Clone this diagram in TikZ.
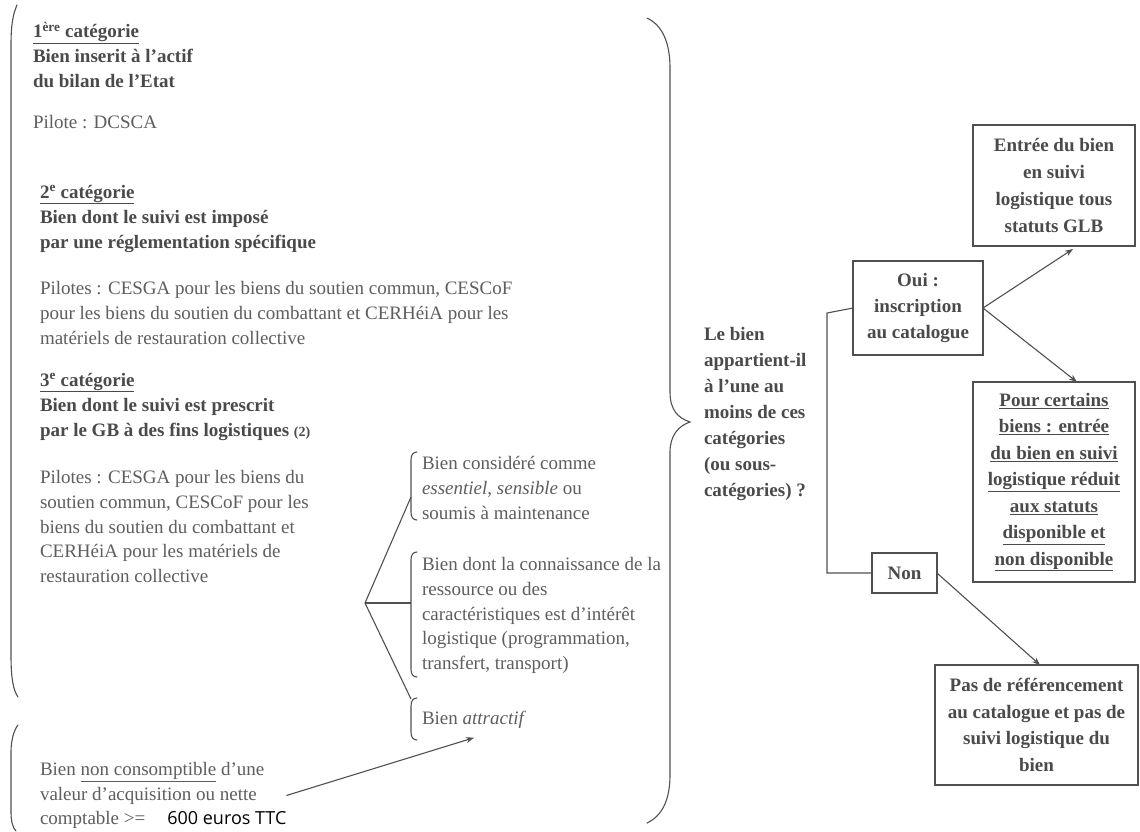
\documentclass[tikz,border=0pt]{standalone}
\usepackage{fontspec}
\setmainfont{Liberation Serif}
\newfontfamily\sansnum{Open Sans}
\usetikzlibrary{arrows.meta}
\definecolor{txtc}{HTML}{5E5E5E}
\definecolor{btxtc}{HTML}{4A4A4A}
\definecolor{lnc}{HTML}{505050}
\begin{document}
\begin{tikzpicture}[x=1pt,y=-1pt,
  every node/.style={inner sep=0pt, outer sep=0pt},
  txt/.style={anchor=west, align=left, text=txtc, font=\fontsize{19}{25}\selectfont},
  boldtxt/.style={anchor=west, align=left, text=btxtc, font=\fontsize{19}{25}\selectfont\bfseries},
  box/.style={draw=lnc, line width=1.4pt, align=center, text=btxtc, font=\fontsize{19}{26.5}\selectfont\bfseries},
  conn/.style={draw=lnc, line width=1.1pt},
  arr/.style={conn, -{Stealth[length=8pt,width=6pt]}},
  brace/.style={draw=lnc, line width=1.1pt, line cap=round}
]
\fill[white] (0,0) rectangle (1140,831);
\useasboundingbox (0,0) rectangle (1140,831);

% ---- left column texts
\node[boldtxt] (cat1) at (33,55) {\underline{1\textsuperscript{ère} catégorie}\\Bien inserit à l’actif\\du bilan de l’Etat};
\node[txt] (pil1) at (33,122) {Pilote : DCSCA};
\node[boldtxt] (cat2) at (40,218.5) {\underline{2\textsuperscript{e} catégorie}\\Bien dont le suivi est imposé\\par une réglementation spécifique};
\node[txt] (pil2) at (40,313) {Pilotes : CESGA pour les biens du soutien commun, CESCoF\\pour les biens du soutien du combattant et CERHéiA pour les\\matériels de restauration collective};
\node[boldtxt] (cat3) at (40,406.5) {\underline{3\textsuperscript{e} catégorie}\\Bien dont le suivi est prescrit\\par le GB à des fins logistiques {\fontsize{14}{14}\selectfont(2)}};
\node[txt, font=\fontsize{19}{24.75}\selectfont] (pil3) at (40,526.5) {Pilotes : CESGA pour les biens du\\soutien commun, CESCoF pour les\\biens du soutien du combattant et\\CERHéiA pour les matériels de\\restauration collective};

\node[txt, font=\fontsize{19}{24.5}\selectfont] (val) at (40,795.5) {Bien \underline{non consomptible} d’une\\valeur d’acquisition ou nette\\comptable >=\hspace{22pt}{\sansnum\color{black}\fontsize{18}{18}\selectfont 600 euros TTC}};

% ---- sub-categories
\node[txt] (g1) at (422,488) {Bien considéré comme\\\textit{essentiel}, \textit{sensible} ou\\soumis à maintenance};
\node[txt, font=\fontsize{19}{24.75}\selectfont] (g2) at (422,615.5) {Bien dont la connaissance de la\\ressource ou des\\caractéristiques est d’intérêt\\logistique (programmation,\\transfert, transport)};
\node[txt] (g3) at (422,720) {Bien \textit{attractif}};

\draw[brace] (417,452) .. controls (413,452) and (411,455) .. (411,460) -- (411,512) .. controls (411,517) and (413,520) .. (417,520);
\draw[brace] (417,552) .. controls (413,552) and (411,555) .. (411,560) -- (411,669) .. controls (411,674) and (413,677) .. (417,677);
\draw[brace] (417,698) .. controls (413,698) and (411,701) .. (411,706) -- (411,732) .. controls (411,737) and (413,740) .. (417,740);

\coordinate (fork) at (365,603);
\coordinate (b1) at (411,497);
\coordinate (b2) at (411,603);
\coordinate (b3) at (411,699);
\draw[conn] (b1) -- (fork) -- (b3);
\draw[conn] (fork) -- (b2);

% ---- big brackets
\draw[brace] (17,5) .. controls (13,14) and (11,25) .. (11,45) -- (11,655) .. controls (11,677) and (13,690) .. (18,697);
\draw[brace] (18,725) .. controls (14,730) and (11,740) .. (11,752) -- (11,812) .. controls (11,822) and (13,828) .. (16,831);
\draw[brace] (647,18) .. controls (662,25) and (670,42) .. (670,68) -- (670,392) .. controls (670,410) and (678,418) .. (690,422) .. controls (678,426) and (670,436) .. (670,452) -- (670,775) .. controls (670,800) and (662,816) .. (647,823);

% ---- question
\node[boldtxt, font=\fontsize{19}{26}\selectfont\bfseries] (q) at (704,414) {Le bien\\appartient-il\\à l’une au\\moins de ces\\catégories\\(ou sous-\\catégories) ?};

% ---- boxes
\node[box, minimum width=162pt, minimum height=121pt, font=\fontsize{19}{26.7}\selectfont\bfseries] (glb) at (1054,185.5) {Entrée du bien\\en suivi\\logistique tous\\statuts GLB};
\node[box, minimum width=130pt, minimum height=94pt, font=\fontsize{19}{26}\selectfont\bfseries] (oui) at (918,308) {Oui :\\inscription\\au catalogue};
\node[box, minimum width=162pt, minimum height=200pt] (pour) at (1054,482) {\underline{Pour certains}\\\underline{biens : entrée}\\\underline{du bien en suivi}\\\underline{logistique réduit}\\\underline{aux statuts}\\\underline{disponible et}\\\underline{non disponible}};
\node[box, minimum width=65pt, minimum height=40pt] (non) at (904.5,573) {Non};
\node[box, minimum width=203pt, minimum height=120pt, font=\fontsize{19}{26.7}\selectfont\bfseries] (pas) at (1036.5,725) {Pas de référencement\\au catalogue et pas de\\suivi logistique du\\bien};

% ---- connectors
\coordinate (elbow1) at (827,313);
\coordinate (elbow2) at (827,573);
\draw[conn] (oui.west) -- (elbow1) -- (elbow2) -- (non.west);
\draw[arr] (oui.east) -- ([xshift=19pt,yshift=-3pt]glb.south);
\draw[arr] (oui.east) -- ([xshift=23pt]pour.north);
\draw[arr] (non.east) -- ([xshift=3.5pt]pas.north);
\draw[arr] (val.east) -- ([yshift=-9pt]g3.south);
\end{tikzpicture}
\end{document}
